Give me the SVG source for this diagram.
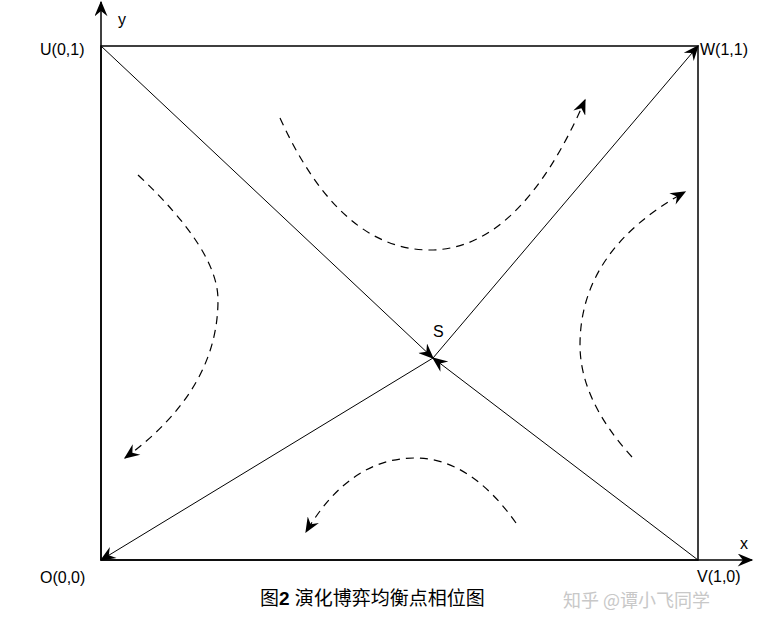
<svg xmlns="http://www.w3.org/2000/svg" width="772" height="629" viewBox="0 0 772 629">
<style>
.l{stroke:#000;stroke-width:1;fill:none}
.d{stroke:#000;stroke-width:1.2;fill:none;stroke-dasharray:8,6}
.t{font-family:"Liberation Sans",Arial,sans-serif;font-size:16px;fill:#000}
</style>
<defs>
<marker id="a" viewBox="0 0 12 10" refX="11" refY="5" markerWidth="18" markerHeight="13" markerUnits="userSpaceOnUse" orient="auto">
<path d="M0,0 L12,5 L0,10 L4,5 Z" fill="#000"/>
</marker>
</defs>
<rect width="772" height="629" fill="#fff"/>
<g id="frame">
<rect x="101" y="46" width="597" height="514" class="l" style="stroke-width:1.5"/>
<line x1="101" y1="560" x2="101" y2="2" class="l" style="stroke-width:1.5" marker-end="url(#a)"/>
<line x1="101" y1="560" x2="752" y2="560" class="l" style="stroke-width:1.5" marker-end="url(#a)"/>
</g>
<g id="connectors">
<line x1="101" y1="46" x2="433" y2="358" class="l" marker-end="url(#a)"/>
<line x1="698" y1="560" x2="433" y2="358" class="l" marker-end="url(#a)"/>
<line x1="433" y1="358" x2="698" y2="46" class="l" marker-end="url(#a)"/>
<line x1="433" y1="358" x2="101" y2="560" class="l" marker-end="url(#a)"/>
<path d="M280,118 Q340,250 430,250 Q520,250 585,100" class="d" marker-end="url(#a)"/>
<path d="M138,175 Q218,250 218,300 Q218,390 125,458" class="d" marker-end="url(#a)"/>
<path d="M632,457 Q580,400 580,345 Q580,250 685,192" class="d" marker-end="url(#a)"/>
<path d="M516,523 Q470,458 415,458 Q350,458 306,532" class="d" marker-end="url(#a)"/>
</g>
<g id="labels">
<text x="118" y="25" class="t">y</text>
<text x="40" y="55" class="t">U(0,1)</text>
<text x="700" y="55" class="t">W(1,1)</text>
<text x="740" y="549" class="t">x</text>
<text x="40" y="583" class="t">O(0,0)</text>
<text x="697" y="582" class="t">V(1,0)</text>
<text x="433" y="337" class="t">S</text>
<text x="260" y="605" style="font-family:'Liberation Sans','Noto Sans CJK SC',sans-serif;font-size:19px">图<tspan font-weight="bold">2</tspan> 演化博弈均衡点相位图</text>
<text x="563" y="607" style="font-family:'Noto Sans CJK SC',sans-serif;font-size:18px;fill:#c8c8c8">知乎 @谭小飞同学</text>
</g>
</svg>
